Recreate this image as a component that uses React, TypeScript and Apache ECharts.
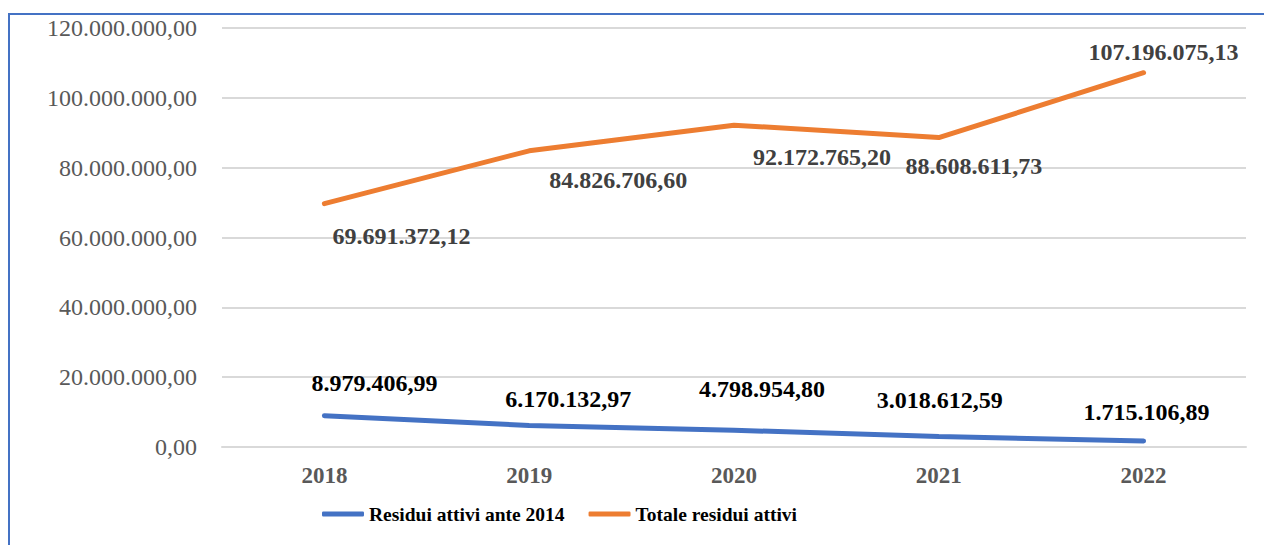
import React, { useEffect, useRef } from "react";
import * as echarts from "echarts";

const years = ["2018", "2019", "2020", "2021", "2022"];
const ante2014 = [8979406.99, 6170132.97, 4798954.8, 3018612.59, 1715106.89];
const totale = [69691372.12, 84826706.6, 92172765.2, 88608611.73, 107196075.13];
const seriesNames = ["Residui attivi ante 2014", "Totale residui attivi"];

// label offsets [dx, dy] relative to each point (layout, not data)
const anteLabelOffsets = [[50, -33], [39, -26], [28, -41], [1, -36], [3, -29]];
const totaleLabelOffsets = [[77, 32], [89, 29], [88, 32], [35, 28], [20, -21]];

const FONT = "'Liberation Serif', 'DejaVu Serif', serif";

function fmt(v: number, dec = 2): string {
  const neg = v < 0;
  const s = Math.abs(v).toFixed(dec);
  const [int, frac] = s.split(".");
  const withDots = int.replace(/\B(?=(\d{3})+(?!\d))/g, ".");
  return (neg ? "-" : "") + withDots + (frac ? "," + frac : "");
}

export default function App() {
  const ref = useRef<HTMLDivElement>(null);
  useEffect(() => {
    if (!ref.current) return;
    const chart = echarts.init(ref.current, undefined, { renderer: "svg" });
    const mkData = (vals: number[], offs: number[][], color: string) =>
      vals.map((v, i) => ({
        value: v,
        label: {
          show: true,
          position: "inside",
          offset: offs[i],
          color,
        },
      }));
    const labelBase = {
      show: true,
      position: "inside",
      formatter: (p: any) => fmt(p.value),
      fontFamily: FONT,
      fontWeight: "bold",
      fontSize: 24,
    };
    chart.setOption({
      animation: false,
      backgroundColor: "#ffffff",
      graphic: [
        {
          type: "rect",
          shape: { x: 9, y: 14, width: 1400, height: 700 },
          style: { fill: "none", stroke: "#4472C4", lineWidth: 2 },
          silent: true,
        },
      ],
      grid: { left: 222, right: 18, top: 28, bottom: 98, containLabel: false },
      legend: {
        data: seriesNames.map((n) => ({ name: n, icon: "roundRect" })),
        left: 317,
        top: 499,
        itemWidth: 42,
        itemHeight: 5,
        itemGap: 24,
        textStyle: { fontFamily: FONT, fontWeight: "bold", fontSize: 19.5, color: "#000000" },
      },
      xAxis: {
        type: "category",
        data: years,
        boundaryGap: true,
        axisLine: { show: true, lineStyle: { color: "#d9d9d9", width: 2 } },
        axisTick: { show: false },
        axisLabel: {
          margin: 17,
          fontFamily: FONT,
          fontWeight: "bold",
          fontSize: 23,
          color: "#595959",
        },
      },
      yAxis: {
        type: "value",
        min: 0,
        max: 120000000,
        interval: 20000000,
        axisLine: { show: false },
        axisTick: { show: false },
        splitLine: { lineStyle: { color: "#d9d9d9", width: 2 } },
        axisLabel: {
          margin: 25,
          fontFamily: FONT,
          fontSize: 24,
          color: "#595959",
          formatter: (v: number) => fmt(v),
        },
      },
      series: [
        {
          name: seriesNames[0],
          type: "line",
          data: mkData(ante2014, anteLabelOffsets, "#000000"),
          symbol: "circle",
          symbolSize: 1,
          showSymbol: true,
          label: labelBase,
          lineStyle: { color: "#4472C4", width: 5, cap: "round" },
          itemStyle: { color: "#4472C4" },
        },
        {
          name: seriesNames[1],
          type: "line",
          data: mkData(totale, totaleLabelOffsets, "#404040"),
          symbol: "circle",
          symbolSize: 1,
          showSymbol: true,
          label: labelBase,
          lineStyle: { color: "#ED7D31", width: 5, cap: "round" },
          itemStyle: { color: "#ED7D31" },
        },
      ],
    });
    return () => chart.dispose();
  }, []);
  return (
    <div
      ref={ref}
      style={{ position: "fixed", left: 0, top: 0, width: 1264, height: 545 }}
    />
  );
}
